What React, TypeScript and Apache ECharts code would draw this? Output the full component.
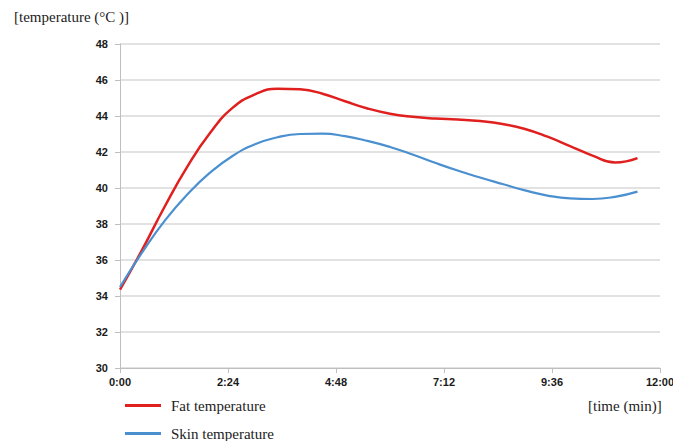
import React, { useEffect, useRef } from "react";
import * as echarts from "echarts";

const times = [0, 0.5, 1, 1.5, 2, 2.5, 3, 3.5, 4, 4.5, 5, 5.5, 6, 6.5, 7, 7.5, 8, 8.5, 9, 9.5, 10, 10.5, 11, 11.5];
const fatTemp = [34.35, 36.6, 39.0, 41.2, 43.05, 44.45, 45.2, 45.52, 45.48, 45.24, 44.82, 44.42, 44.13, 43.96, 43.86, 43.8, 43.72, 43.56, 43.28, 42.85, 42.33, 41.8, 41.42, 41.66];
const skinTemp = [34.5, 36.45, 38.2, 39.65, 40.85, 41.78, 42.43, 42.82, 43.0, 43.02, 42.88, 42.62, 42.28, 41.86, 41.4, 40.97, 40.58, 40.22, 39.87, 39.58, 39.42, 39.39, 39.51, 39.8];
const seriesNames = ["Fat temperature", "Skin temperature"];
const yTitle = "[temperature (°C )]";
const xTitle = "[time (min)]";

function fmtTime(v: number): string {
  const totalSec = Math.round(v * 60);
  const m = Math.floor(totalSec / 60);
  const s = totalSec % 60;
  return m + ":" + (s < 10 ? "0" + s : String(s));
}

export default function App() {
  const ref = useRef<HTMLDivElement>(null);
  useEffect(() => {
    if (!ref.current) return;
    const chart = echarts.init(ref.current, undefined, { renderer: "svg" });
    const serif = "Liberation Serif, Times New Roman, serif";
    const sans = "Arial, Liberation Sans, sans-serif";
    const legendBase = {
      orient: "horizontal",
      left: 120,
      itemWidth: 36,
      itemHeight: 3,
      icon: "rect",
      textStyle: { fontFamily: serif, fontSize: 15, color: "#222", padding: [0, 0, 0, 5] },
    };
    chart.setOption({
      animation: false,
      backgroundColor: "#ffffff",
      grid: { left: 120, right: 13, top: 44, bottom: 73, outerBoundsMode: "none", containLabel: false },
      xAxis: {
        type: "value",
        min: 0,
        max: 12,
        interval: 2.4,
        axisLine: { show: true, lineStyle: { color: "#bfbfbf", width: 1 } },
        axisTick: { show: true, length: 5, lineStyle: { color: "#bfbfbf" } },
        splitLine: { show: false },
        axisLabel: {
          formatter: (v: number) => fmtTime(v),
          color: "#1a1a1a",
          fontFamily: sans,
          fontWeight: "bold",
          fontSize: 11,
          margin: 8,
        },
      },
      yAxis: {
        type: "value",
        min: 30,
        max: 48,
        interval: 2,
        axisLine: { show: true, lineStyle: { color: "#bfbfbf", width: 1 } },
        axisTick: { show: true, length: 5, lineStyle: { color: "#bfbfbf" } },
        splitLine: { show: true, lineStyle: { color: "#d9d9d9", width: 1.5 } },
        axisLabel: {
          color: "#1a1a1a",
          fontFamily: sans,
          fontWeight: "bold",
          fontSize: 11,
          margin: 12,
        },
      },
      legend: [
        { ...legendBase, top: 393, data: [seriesNames[0]] },
        { ...legendBase, top: 421, data: [seriesNames[1]] },
      ],
      graphic: [
        {
          type: "text",
          left: 14,
          top: 9,
          style: { text: yTitle, fontFamily: serif, fontSize: 15, fill: "#222" },
        },
        {
          type: "text",
          left: 588,
          top: 398,
          style: { text: xTitle, fontFamily: serif, fontSize: 15, fill: "#222" },
        },
      ],
      series: [
        {
          name: seriesNames[0],
          type: "line",
          smooth: 0.5,
          showSymbol: false,
          symbol: "none",
          lineStyle: { color: "#e0201f", width: 2.5 },
          itemStyle: { color: "#e0201f" },
          data: times.map((t, i) => [t, fatTemp[i]]),
        },
        {
          name: seriesNames[1],
          type: "line",
          smooth: 0.5,
          showSymbol: false,
          symbol: "none",
          lineStyle: { color: "#4a90d0", width: 2.2 },
          itemStyle: { color: "#4a90d0" },
          data: times.map((t, i) => [t, skinTemp[i]]),
        },
      ],
    });
    return () => chart.dispose();
  }, []);
  return <div ref={ref} style={{ width: 673, height: 441, position: "absolute", left: 0, top: 0 }} />;
}
